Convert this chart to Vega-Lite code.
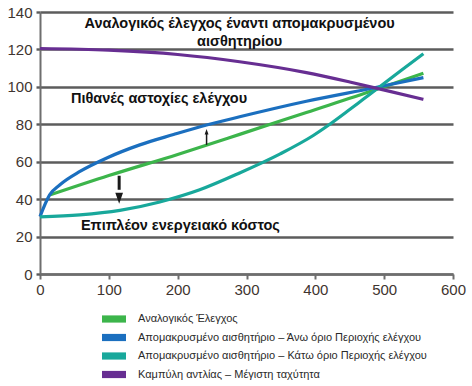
{
  "$schema": "https://vega.github.io/schema/vega-lite/v6.json",
  "width": 413,
  "height": 262,
  "autosize": {"type": "none"},
  "padding": {"left": 40, "top": 12, "right": 19, "bottom": 112},
  "background": "white",
  "config": {
    "view": {"stroke": null},
    "font": "Liberation Sans"
  },
  "datasets": {
    "curves": [
      {"series": "Αναλογικός Έλεγχος", "x": 15, "y": 42.3},
      {"series": "Αναλογικός Έλεγχος", "x": 100, "y": 52.6},
      {"series": "Αναλογικός Έλεγχος", "x": 200, "y": 63.9},
      {"series": "Αναλογικός Έλεγχος", "x": 290, "y": 74.6},
      {"series": "Αναλογικός Έλεγχος", "x": 387, "y": 86.3},
      {"series": "Αναλογικός Έλεγχος", "x": 484, "y": 98},
      {"series": "Αναλογικός Έλεγχος", "x": 557, "y": 107.3},
      {"series": "Απομακρυσμένο αισθητήριο – Άνω όριο Περιοχής ελέγχου", "x": 0, "y": 30.7},
      {"series": "Απομακρυσμένο αισθητήριο – Άνω όριο Περιοχής ελέγχου", "x": 14, "y": 42.3},
      {"series": "Απομακρυσμένο αισθητήριο – Άνω όριο Περιοχής ελέγχου", "x": 29, "y": 47.7},
      {"series": "Απομακρυσμένο αισθητήριο – Άνω όριο Περιοχής ελέγχου", "x": 58, "y": 54.8},
      {"series": "Απομακρυσμένο αισθητήριο – Άνω όριο Περιοχής ελέγχου", "x": 97, "y": 62},
      {"series": "Απομακρυσμένο αισθητήριο – Άνω όριο Περιοχής ελέγχου", "x": 145, "y": 69},
      {"series": "Απομακρυσμένο αισθητήριο – Άνω όριο Περιοχής ελέγχου", "x": 194, "y": 74.5},
      {"series": "Απομακρυσμένο αισθητήριο – Άνω όριο Περιοχής ελέγχου", "x": 242, "y": 79.6},
      {"series": "Απομακρυσμένο αισθητήριο – Άνω όριο Περιοχής ελέγχου", "x": 290, "y": 84},
      {"series": "Απομακρυσμένο αισθητήριο – Άνω όριο Περιοχής ελέγχου", "x": 387, "y": 92.3},
      {"series": "Απομακρυσμένο αισθητήριο – Άνω όριο Περιοχής ελέγχου", "x": 484, "y": 99.4},
      {"series": "Απομακρυσμένο αισθητήριο – Άνω όριο Περιοχής ελέγχου", "x": 557, "y": 104.9},
      {"series": "Απομακρυσμένο αισθητήριο – Κάτω όριο Περιοχής ελέγχου", "x": 0, "y": 30.5},
      {"series": "Απομακρυσμένο αισθητήριο – Κάτω όριο Περιοχής ελέγχου", "x": 58, "y": 31.6},
      {"series": "Απομακρυσμένο αισθητήριο – Κάτω όριο Περιοχής ελέγχου", "x": 116, "y": 34},
      {"series": "Απομακρυσμένο αισθητήριο – Κάτω όριο Περιοχής ελέγχου", "x": 174, "y": 38.5},
      {"series": "Απομακρυσμένο αισθητήριο – Κάτω όριο Περιοχής ελέγχου", "x": 232, "y": 45},
      {"series": "Απομακρυσμένο αισθητήριο – Κάτω όριο Περιοχής ελέγχου", "x": 290, "y": 54},
      {"series": "Απομακρυσμένο αισθητήριο – Κάτω όριο Περιοχής ελέγχου", "x": 349, "y": 64.2},
      {"series": "Απομακρυσμένο αισθητήριο – Κάτω όριο Περιοχής ελέγχου", "x": 397, "y": 74},
      {"series": "Απομακρυσμένο αισθητήριο – Κάτω όριο Περιοχής ελέγχου", "x": 421, "y": 80},
      {"series": "Απομακρυσμένο αισθητήριο – Κάτω όριο Περιοχής ελέγχου", "x": 446, "y": 86.8},
      {"series": "Απομακρυσμένο αισθητήριο – Κάτω όριο Περιοχής ελέγχου", "x": 470, "y": 93.5},
      {"series": "Απομακρυσμένο αισθητήριο – Κάτω όριο Περιοχής ελέγχου", "x": 494, "y": 100.2},
      {"series": "Απομακρυσμένο αισθητήριο – Κάτω όριο Περιοχής ελέγχου", "x": 525, "y": 108.9},
      {"series": "Απομακρυσμένο αισθητήριο – Κάτω όριο Περιοχής ελέγχου", "x": 557, "y": 117.7},
      {"series": "Καμπύλη αντλίας – Μέγιστη ταχύτητα", "x": 0, "y": 120.5},
      {"series": "Καμπύλη αντλίας – Μέγιστη ταχύτητα", "x": 100, "y": 119.6},
      {"series": "Καμπύλη αντλίας – Μέγιστη ταχύτητα", "x": 200, "y": 117.3},
      {"series": "Καμπύλη αντλίας – Μέγιστη ταχύτητα", "x": 290, "y": 113.4},
      {"series": "Καμπύλη αντλίας – Μέγιστη ταχύτητα", "x": 387, "y": 107.6},
      {"series": "Καμπύλη αντλίας – Μέγιστη ταχύτητα", "x": 450, "y": 102.6},
      {"series": "Καμπύλη αντλίας – Μέγιστη ταχύτητα", "x": 499, "y": 98.4},
      {"series": "Καμπύλη αντλίας – Μέγιστη ταχύτητα", "x": 557, "y": 93.3}
    ],
    "labels": [
      {"x": 290, "y": 133.8, "text": "Αναλογικός έλεγχος έναντι απομακρυσμένου"},
      {"x": 290, "y": 124.2, "text": "αισθητηρίου"},
      {"x": 173, "y": 93.4, "text": "Πιθανές αστοχίες ελέγχου"},
      {"x": 204, "y": 25.6, "text": "Επιπλέον ενεργειακό κόστος"}
    ],
    "shafts": [
      {"x": 115, "y": 52.5, "y2": 45, "w": 3},
      {"x": 242, "y": 69, "y2": 75, "w": 1.5}
    ],
    "heads": [
      {"x": 115, "y": 40.5, "dir": "down"},
      {"x": 242, "y": 76, "dir": "up"}
    ]
  },
  "encoding": {
    "x": {
      "field": "x", "type": "quantitative",
      "scale": {"domain": [0, 600], "nice": false, "zero": false},
      "axis": {
        "values": [0, 100, 200, 300, 400, 500, 600],
        "title": null, "grid": false,
        "domainColor": "#6e6e6e", "domainWidth": 2,
        "tickColor": "#6e6e6e", "tickWidth": 2, "tickSize": 5,
        "labelFontSize": 15, "labelColor": "#3f3530", "labelPadding": 3,
        "labelFlush": false
      }
    },
    "y": {
      "field": "y", "type": "quantitative",
      "scale": {"domain": [0, 140], "nice": false},
      "axis": {
        "values": [0, 20, 40, 60, 80, 100, 120, 140],
        "title": null, "grid": true, "gridColor": "#5c5c5c", "gridWidth": 2.4, "gridOpacity": 1,
        "domainColor": "#6e6e6e", "domainWidth": 2,
        "tickColor": "#5c5c5c", "tickWidth": 2.4, "tickSize": 4,
        "labelFontSize": 15, "labelColor": "#3f3530", "labelPadding": 4
      }
    }
  },
  "layer": [
    {
      "data": {"name": "curves"},
      "mark": {"type": "line", "strokeWidth": 3.2, "interpolate": "monotone"},
      "encoding": {
        "color": {
          "field": "series", "type": "nominal",
          "scale": {
            "domain": [
              "Αναλογικός Έλεγχος",
              "Απομακρυσμένο αισθητήριο – Άνω όριο Περιοχής ελέγχου",
              "Απομακρυσμένο αισθητήριο – Κάτω όριο Περιοχής ελέγχου",
              "Καμπύλη αντλίας – Μέγιστη ταχύτητα"
            ],
            "range": ["#3cb54b", "#1b6fbf", "#18a89b", "#672e92"]
          },
          "legend": {
            "orient": "none", "legendX": 62, "legendY": 295,
            "title": null, "direction": "vertical",
            "symbolType": "M-1,-0.3H1V0.3H-1Z", "symbolSize": 576,
            "symbolStrokeWidth": 0, "symbolOpacity": 1,
            "labelFontSize": 11, "labelColor": "#2a2a2a", "labelOffset": 12,
            "rowPadding": 1.5, "labelLimit": 400,
            "encode": {
              "symbols": {
                "update": {
                  "fill": {"scale": "color", "field": "value"},
                  "fillOpacity": {"value": 1},
                  "strokeWidth": {"value": 0}
                }
              }
            }
          }
        }
      }
    },
    {
      "data": {"name": "shafts"},
      "mark": {"type": "rule", "color": "#1a1a1a"},
      "encoding": {
        "y2": {"field": "y2"},
        "strokeWidth": {"field": "w", "type": "quantitative", "scale": null}
      }
    },
    {
      "data": {"name": "heads"},
      "mark": {"type": "point", "filled": true, "color": "#1a1a1a", "opacity": 1},
      "encoding": {
        "shape": {"field": "dir", "type": "nominal", "scale": {"domain": ["down", "up"], "range": ["M-0.7,-1H0.7L0,1Z", "M-0.7,1H0.7L0,-1Z"]}, "legend": null},
        "size": {"field": "dir", "type": "nominal", "scale": {"domain": ["down", "up"], "range": [121, 31]}, "legend": null}
      }
    },
    {
      "data": {"name": "labels"},
      "mark": {"type": "text", "fontWeight": "bold", "fontSize": 14.5, "color": "#111111", "align": "center", "baseline": "middle"},
      "encoding": {"text": {"field": "text"}}
    }
  ]
}
